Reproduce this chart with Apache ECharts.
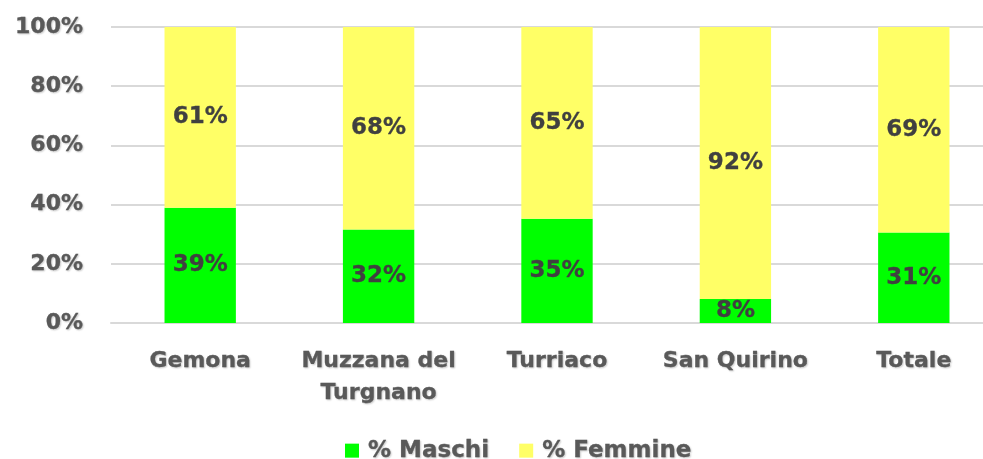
<!DOCTYPE html>
<html>
<head>
<meta charset="utf-8">
<script src="https://cdn.jsdelivr.net/npm/echarts@6/dist/echarts.min.js"></script>
<style>
  html, body { margin: 0; padding: 0; background: #fff; overflow: hidden; }
  #chart { width: 1003px; height: 459px; }
</style>
</head>
<body>
<div id="chart"></div>
<script>
var categories = ['Gemona', 'Muzzana del\nTurgnano', 'Turriaco', 'San Quirino', 'Totale'];
var maschi = [38.9, 31.6, 35.2, 8.1, 30.6];
var femmine = [61.1, 68.4, 64.8, 91.9, 69.4];
var yTicks = [0, 20, 40, 60, 80, 100];

(function () {
  var myChart = echarts.init(document.getElementById('chart'));
  var font = 'DejaVu Sans';
  // testo grigio con leggera ombra
  var grey = {
    color: '#595959', fontFamily: font, fontWeight: 'bold', fontSize: 22,
    textBorderColor: '#595959', textBorderWidth: 0.3,
    textShadowColor: 'rgba(0,0,0,0.2)', textShadowBlur: 2, textShadowOffsetX: 1, textShadowOffsetY: 1
  };
  var labelStyle = {
    show: true,
    position: 'inside',
    color: '#404040',
    textBorderColor: '#404040',
    textBorderWidth: 0.3,
    fontFamily: font,
    fontWeight: 'bold',
    fontSize: 23,
    formatter: function (p) { return Math.round(p.value) + '%'; }
  };
  var option = {
    animation: false,
    grid: { left: 111, right: 0, top: 27, bottom: 136 },
    legend: {
      top: 434,
      left: 340,
      itemWidth: 14,
      itemHeight: 14,
      itemGap: 30,
      icon: 'rect',
      textStyle: Object.assign({}, grey, { fontSize: 23, padding: [0, 0, 0, 4] }),
      data: ['% Maschi', '% Femmine']
    },
    xAxis: {
      type: 'category',
      data: categories,
      axisTick: { show: false },
      axisLine: { lineStyle: { color: '#d9d9d9', width: 2 } },
      axisLabel: Object.assign({}, grey, { interval: 0, margin: 22, lineHeight: 32 })
    },
    yAxis: {
      type: 'value',
      min: yTicks[0],
      max: yTicks[yTicks.length - 1],
      interval: 20,
      axisLine: { show: false },
      axisTick: { show: false },
      splitLine: { lineStyle: { color: '#d9d9d9', width: 2 } },
      axisLabel: Object.assign({}, grey, { margin: 28, formatter: '{value}%' })
    },
    series: [
      {
        name: '% Maschi', type: 'bar', stack: 'tot', barWidth: '40%',
        itemStyle: { color: '#00ff00' },
        label: labelStyle,
        data: maschi
      },
      {
        name: '% Femmine', type: 'bar', stack: 'tot', barWidth: '40%',
        itemStyle: { color: '#ffff66' },
        label: labelStyle,
        data: femmine
      }
    ]
  };
  myChart.setOption(option);
})();
</script>
</body>
</html>
